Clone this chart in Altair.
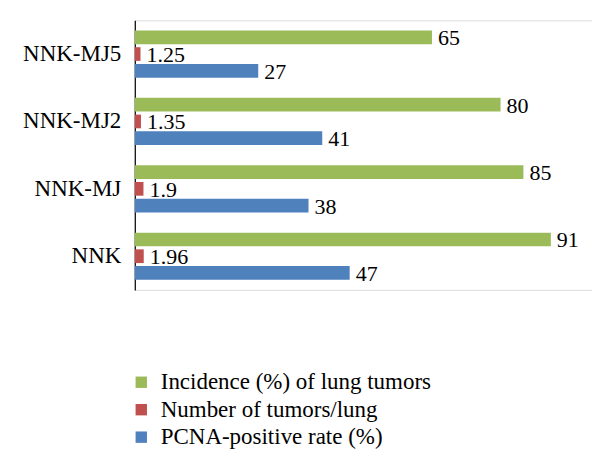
import altair as alt
import pandas as pd

categories = ["NNK-MJ5", "NNK-MJ2", "NNK-MJ", "NNK"]
series = ["Incidence (%) of lung tumors", "Number of tumors/lung", "PCNA-positive rate (%)"]
incidence = [65, 80, 85, 91]
tumors = [1.25, 1.35, 1.9, 1.96]
pcna = [27, 41, 38, 47]
colors = ["#9BBB59", "#C0504D", "#4F81BD"]

rows = []
for i, c in enumerate(categories):
    for s, vals in zip(series, [incidence, tumors, pcna]):
        v = vals[i]
        rows.append({"cat": c, "series": s, "value": v, "label": f"{v:g}"})
df = pd.DataFrame(rows)

FONT = "Liberation Serif"

y_enc = alt.Y("cat:N", sort=categories, title=None,
              scale=alt.Scale(paddingInner=0.3, paddingOuter=0.15),
              axis=alt.Axis(domainColor="black", domainWidth=1.2, ticks=False,
                            labelFont=FONT, labelFontSize=23, labelColor="black",
                            labelPadding=14, grid=False))
yoff = alt.YOffset("series:N", sort=series,
                   scale=alt.Scale(paddingInner=0.18, paddingOuter=0))
x_enc = alt.X("value:Q", scale=alt.Scale(domain=[0, 100]), axis=None)

bars = alt.Chart(df).mark_bar().encode(
    x=x_enc, y=y_enc, yOffset=yoff,
    color=alt.Color("series:N", sort=series,
                    scale=alt.Scale(domain=series, range=colors),
                    legend=alt.Legend(title=None, orient="none", legendX=-5, legendY=351,
                                      symbolType="square", symbolSize=130,
                                      symbolStrokeWidth=0, labelFont=FONT,
                                      labelFontSize=23, labelColor="black",
                                      labelOffset=8, rowPadding=3.5, padding=0,
                                      labelLimit=400))
)

text = alt.Chart(df).mark_text(align="left", baseline="middle", dx=6, dy=1,
                               font=FONT, fontSize=22, color="black").encode(
    x="value:Q", y=alt.Y("cat:N", sort=categories), yOffset=yoff, text="label:N"
)

chart = (bars + text).properties(
    width=458, height=270,
    autosize=alt.AutoSizeParams(type="none"),
    padding={"left": 127, "top": 12, "right": 0, "bottom": 171},
).configure_view(stroke=None).configure(background="white")

chart.save("out.html", embed_options={"renderer": "svg", "actions": False})
